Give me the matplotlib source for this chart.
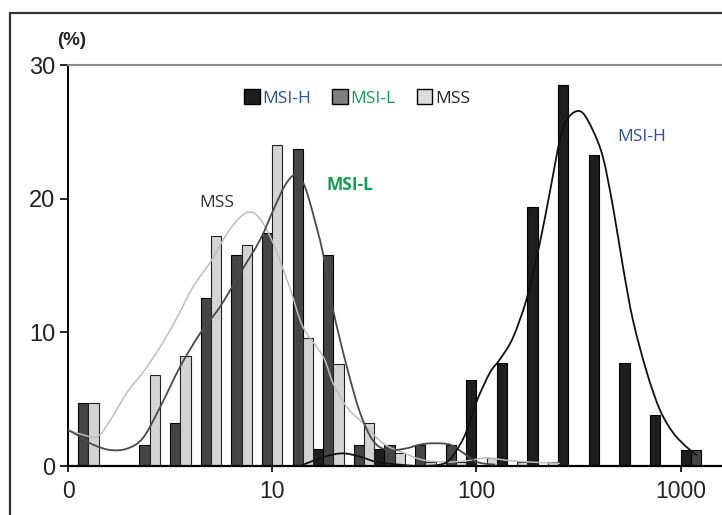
import numpy as np
import matplotlib
matplotlib.use('Agg')
import matplotlib.pyplot as plt
from matplotlib.patches import Patch, Rectangle, PathPatch
from matplotlib.path import Path

# 每组 (bin) 占 0.15 个 log10 单位，三种类型并排
bin_step = 0.15
msi_h = [0, 0, 0, 0, 0, 0, 0, 0, 1.3, 0, 1.3, 0, 0, 6.4, 7.7, 19.4, 28.5, 23.3, 7.7, 3.8, 1.2]
msi_l = [4.7, 0, 1.6, 3.2, 12.6, 15.8, 17.4, 23.7, 15.8, 1.6, 1.6, 1.6, 1.6, 0, 0, 0, 0, 0, 0, 0, 1.2]
mss = [4.7, 0, 6.8, 8.2, 17.2, 16.5, 24.0, 9.6, 7.6, 3.2, 1.0, 0.3, 0.3, 0.6, 0.3, 0.3, 0, 0, 0, 0, 0]

# 平滑曲线（从图上读取，x 为 log10）
h_x = [1.136, 1.210, 1.268, 1.347, 1.430, 1.513, 1.626, 1.724, 1.822, 1.871, 1.920, 1.954,
       2.003, 2.067, 2.116, 2.179, 2.248, 2.311, 2.361, 2.409, 2.444, 2.483, 2.522, 2.571,
       2.620, 2.669, 2.718, 2.767, 2.835, 2.899, 2.963, 3.031, 3.080]
h_y = [0.0, 0.45, 0.75, 0.95, 0.7, 0.3, 0.1, 0.0, 0.1, 0.5, 1.6, 2.7,
       4.9, 7.0, 8.0, 9.6, 12.6, 16.7, 20.6, 24.4, 25.9, 26.5, 26.4, 25.1,
       23.1, 19.4, 14.9, 10.9, 7.0, 4.2, 2.5, 1.4, 0.8]
l_x = [0.000, 0.059, 0.122, 0.206, 0.289, 0.367, 0.451, 0.548, 0.646, 0.744, 0.842, 0.940,
       1.004, 1.063, 1.112, 1.151, 1.185, 1.249, 1.298, 1.366, 1.430, 1.494, 1.562, 1.650,
       1.724, 1.787, 1.871, 1.934, 2.003, 2.091]
l_y = [2.7, 2.2, 1.6, 1.2, 1.3, 2.1, 4.4, 7.4, 9.9, 11.9, 14.4, 16.9,
       19.1, 21.0, 21.8, 21.2, 19.7, 15.9, 11.7, 7.4, 4.0, 1.9, 1.2, 1.3,
       1.6, 1.7, 1.6, 1.0, 0.3, 0.1]
s_x = [0.000, 0.059, 0.142, 0.206, 0.289, 0.367, 0.451, 0.534, 0.612, 0.695, 0.779, 0.842,
       0.891, 0.940, 1.004, 1.087, 1.151, 1.249, 1.298, 1.366, 1.445, 1.543, 1.641, 1.739,
       1.856, 1.954, 2.052, 2.165, 2.263, 2.409]
s_y = [2.7, 2.4, 2.2, 3.4, 5.5, 7.0, 8.9, 11.1, 13.4, 15.2, 17.4, 18.6,
       19.0, 18.5, 16.7, 13.3, 10.4, 8.2, 6.2, 4.4, 3.2, 1.7, 1.0, 0.45,
       0.3, 0.4, 0.6, 0.4, 0.3, 0.2]

xtick_pos = [0, 1, 2, 3]
xtick_labels = ['0', '10', '100', '1000']
yticks = [0, 10, 20, 30]

col_h, col_l, col_s = '#1e1e1e', '#454545', '#d4d4d4'


def smooth_line(ax, xs, ys, **kw):
    # 类似 Excel 平滑线：用三次贝塞尔连接各点
    p = np.column_stack([xs, ys])
    verts = [p[0]]
    codes = [Path.MOVETO]
    for i in range(len(p) - 1):
        p0 = p[i - 1] if i > 0 else p[i]
        p3 = p[i + 2] if i + 2 < len(p) else p[i + 1]
        c1 = p[i] + (p[i + 1] - p0) / 6
        c2 = p[i + 1] - (p3 - p[i]) / 6
        verts += [c1, c2, p[i + 1]]
        codes += [Path.CURVE4] * 3
    ax.add_patch(PathPatch(Path(verts, codes), fill=False, **kw))


fig = plt.figure(figsize=(7.22, 5.15), dpi=100)
ax = fig.add_axes([0.0942, 0.0951, 0.9058, 0.7786])

k = np.arange(len(msi_h))
w = bin_step / 3
ax.bar(k * bin_step + 0.5 * w, msi_h, width=w, color=col_h, edgecolor='black', lw=0.8, zorder=2)
ax.bar(k * bin_step + 1.5 * w, msi_l, width=w, color=col_l, edgecolor='black', lw=0.8, zorder=2)
ax.bar(k * bin_step + 2.5 * w, mss, width=w, color=col_s, edgecolor='#222222', lw=0.8, zorder=2)

smooth_line(ax, s_x, s_y, edgecolor='#bdbdbd', lw=1.1, zorder=3)
smooth_line(ax, l_x, l_y, edgecolor='#4a4a4a', lw=1.3, zorder=3)
smooth_line(ax, h_x, h_y, edgecolor='#111111', lw=1.3, zorder=3)

ax.set_xlim(0, 3.203)
ax.set_ylim(0, 30)
ax.set_xticks(xtick_pos)
ax.set_xticklabels(xtick_labels, fontsize=16.5, family='Liberation Sans', color='#222222')
ax.set_yticks(yticks)
ax.set_yticklabels([str(v) for v in yticks], fontsize=17, family='Liberation Sans', color='#222222')
ax.tick_params(axis='y', length=6, width=1.2, pad=3)
ax.tick_params(axis='x', length=4, width=1.2, pad=6)

ax.spines['right'].set_visible(False)
ax.spines['top'].set_color('#8a8a8a')
ax.spines['top'].set_linewidth(1.5)
ax.spines['left'].set_linewidth(1.4)
ax.spines['bottom'].set_linewidth(1.6)

lab_font = 'Open Sans'
ax.text(0.73, 19.7, 'MSS', fontsize=12.5, family=lab_font, color='#333333', ha='center', va='center')
ax.text(1.38, 21.0, 'MSI-L', fontsize=12.5, family=lab_font, color='#12a050', weight='bold',
        ha='center', va='center')
ax.text(2.81, 24.6, 'MSI-H', fontsize=12.5, family=lab_font, color='#2a4fa8', ha='center', va='center')
ax.text(0.006, 1.062, '(%)', transform=ax.transAxes, fontsize=13.5, family='Liberation Sans',
        weight='bold', color='#222222', ha='center', va='center')

handles = [Patch(facecolor=col_h, edgecolor='black'),
           Patch(facecolor='#808080', edgecolor='black'),
           Patch(facecolor='#dddddd', edgecolor='black')]
leg = ax.legend(handles, ['MSI-H', 'MSI-L', 'MSS'], ncol=3, frameon=False, loc='center',
                bbox_to_anchor=(0.442, 0.918), prop={'family': lab_font, 'size': 12.5},
                handlelength=0.9, handleheight=0.9, handletextpad=0.15, columnspacing=1.2)
for t, c in zip(leg.get_texts(), ['#2a4fa8', '#12a050', '#222222']):
    t.set_color(c)

# 外框
fig.patches.append(Rectangle((10 / 722, -0.2), 2, 0.2 + 1 - 13 / 515, transform=fig.transFigure,
                             fill=False, lw=1.6, edgecolor='#333333'))

plt.savefig('out.png', dpi=100)
